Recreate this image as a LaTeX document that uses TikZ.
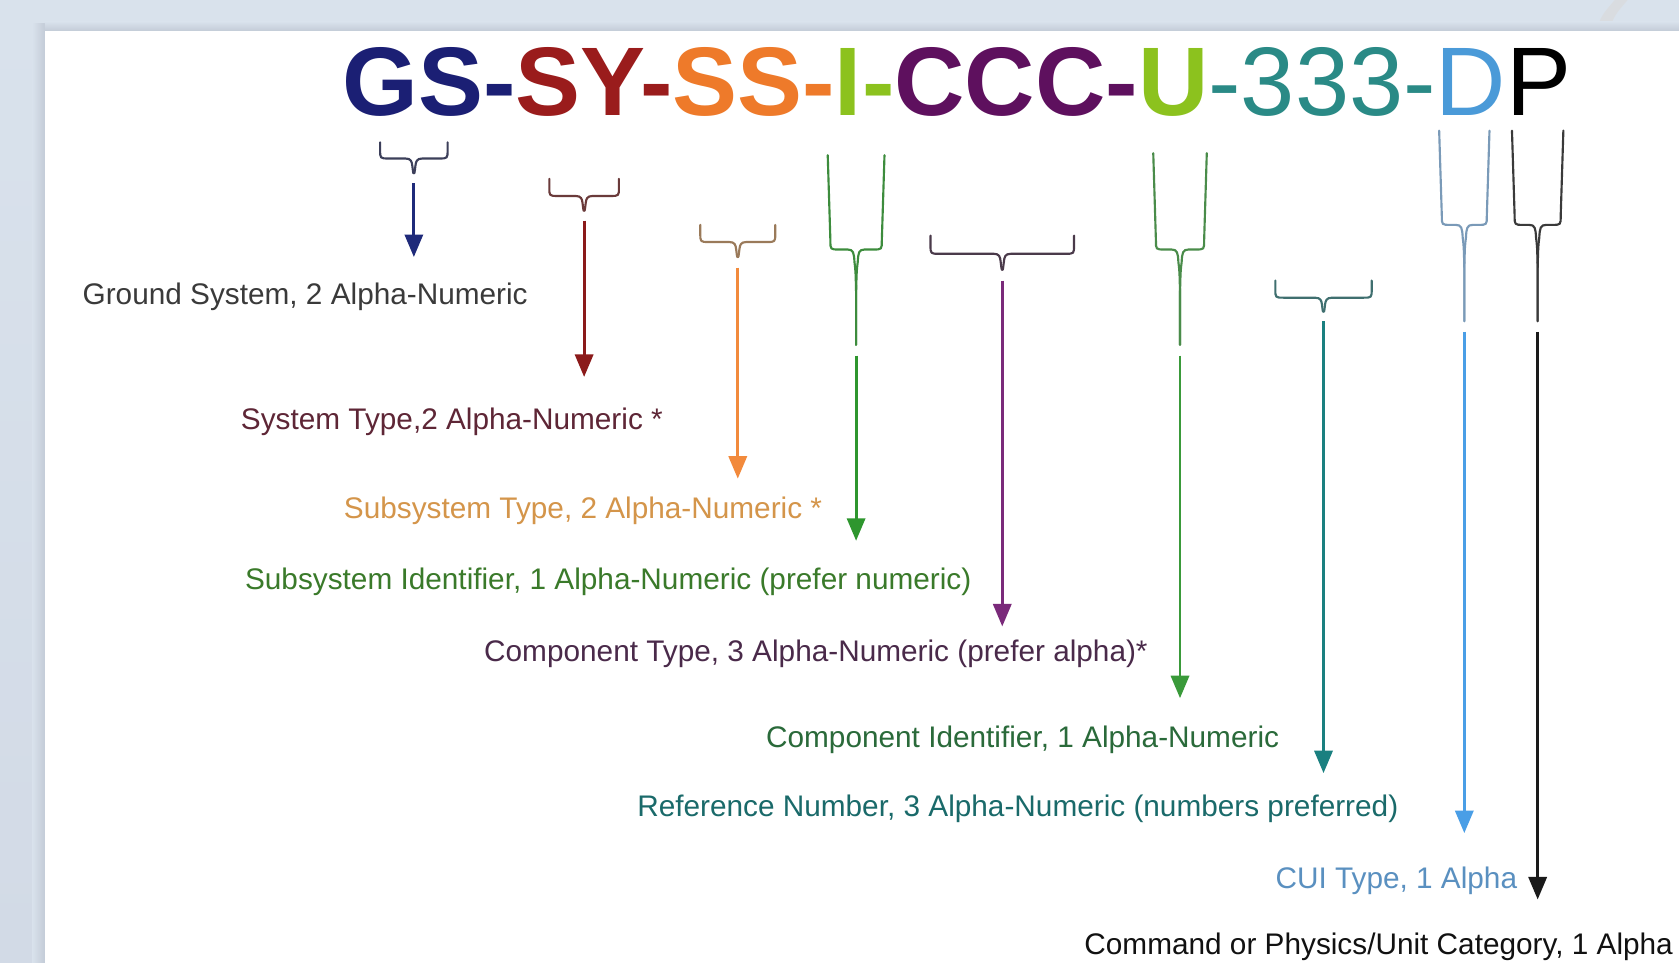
\documentclass[tikz,border=0pt]{standalone}
\usepackage{fontspec}
\setmainfont{Liberation Sans}
\usetikzlibrary{arrows.meta}
% background colours
\definecolor{bgtop}{HTML}{D9E2EC}
\definecolor{bgbot}{HTML}{D2DAE6}
\definecolor{bgshadow}{HTML}{C3CBD7}
% title colours
\definecolor{tgs}{HTML}{1B1F74}
\definecolor{tsy}{HTML}{9A1C1C}
\definecolor{tss}{HTML}{EE7A2A}
\definecolor{ti}{HTML}{8CC21E}
\definecolor{tccc}{HTML}{5E105E}
\definecolor{tthree}{HTML}{2A8A86}
\definecolor{td}{HTML}{4A9AD8}
% brace colours
\definecolor{bgs}{HTML}{3C3F5A}
\definecolor{bsy}{HTML}{6A3A3A}
\definecolor{bss}{HTML}{9A7A5A}
\definecolor{bi}{HTML}{3D8C3D}
\definecolor{bccc}{HTML}{4A3A4A}
\definecolor{bu}{HTML}{4A8C4A}
\definecolor{bthree}{HTML}{3F6F6F}
\definecolor{bd}{HTML}{7A9AB8}
\definecolor{bp}{HTML}{3A3A3A}
% arrow colours
\definecolor{ags}{HTML}{1F2A7A}
\definecolor{asy}{HTML}{8B1A1A}
\definecolor{ass}{HTML}{F28A3C}
\definecolor{ai}{HTML}{2E962E}
\definecolor{accc}{HTML}{7A2A7A}
\definecolor{au}{HTML}{3A9A3A}
\definecolor{athree}{HTML}{1A8080}
\definecolor{ad}{HTML}{4A9EE6}
\definecolor{ap}{HTML}{1A1A1A}
% label colours
\definecolor{lgs}{HTML}{3A3A3A}
\definecolor{lsy}{HTML}{5E2636}
\definecolor{lss}{HTML}{D4954A}
\definecolor{li}{HTML}{3A7A2A}
\definecolor{lccc}{HTML}{4A2A4A}
\definecolor{lu}{HTML}{2A6A3A}
\definecolor{lthree}{HTML}{1A6A6A}
\definecolor{ld}{HTML}{5A90C0}
\definecolor{lp}{HTML}{111111}
% #1 name, #2 left x, #3 right x, #4 top y, #5 bar y, #6 tip y, #7 colour
\newcommand{\dnbrace}[7]{%
  \pgfmathsetmacro{\bc}{(#2+#3)/2}%
  \pgfmathsetmacro{\bs}{min(#5+40,#6)}%
  \pgfmathsetmacro{\bm}{min(#5+12,(#5+#6)/2)}%
  \pgfmathsetmacro{\br}{min(8,(#5-#4)*0.6)}%
  \pgfmathsetmacro{\bt}{((#5-#4)>40)?2.5:0}%
  \draw[bracestyle,draw=#7] (#2,#4) -- (#2+\bt,#5-\br) .. controls (#2+\bt,#5) .. (#2+\bt+\br,#5) -- (\bc-8,#5) .. controls (\bc-2.5,#5) and (\bc-2,#5+3) .. (\bc-1.5,\bm) .. controls (\bc-0.5,\bm+8) .. (\bc,\bs) -- (\bc,#6);
  \draw[bracestyle,draw=#7] (#3,#4) -- (#3-\bt,#5-\br) .. controls (#3-\bt,#5) .. (#3-\bt-\br,#5) -- (\bc+8,#5) .. controls (\bc+2.5,#5) and (\bc+2,#5+3) .. (\bc+1.5,\bm) .. controls (\bc+0.5,\bm+8) .. (\bc,\bs) -- (\bc,#6);
  \coordinate (#1) at (\bc,#6+10);
}
\begin{document}
\begin{tikzpicture}[x=1pt,y=-1pt,
  bracestyle/.style={line width=2pt,line cap=round,line join=round},
  arrowline/.style={line width=2.6pt,-{Triangle[width=17pt,length=21pt]}},
  lbl/.style={anchor=mid,inner sep=0pt,font=\fontsize{27.8}{30}\selectfont}]
\useasboundingbox (0,0) rectangle (1568,899);
% background
\fill[top color=bgtop, bottom color=bgbot] (0,0) rectangle (1568,899);
\fill[gray!30,opacity=0.6] (1490,29) .. controls (1496,14) .. (1508,0) -- (1520,0) .. controls (1508,14) .. (1502,29) -- cycle;
\fill[left color=bgtop, right color=bgshadow] (30,22) rectangle (42,899);
\fill[top color=bgtop, bottom color=bgshadow] (42,20) rectangle (1568,29);
\fill[white] (42,29) rectangle (1568,899);
% title
\node[anchor=base,inner sep=0pt,font=\fontsize{91}{91}\selectfont] (title) at (893.5,108)
  {\bfseries\textcolor{tgs}{GS-}\textcolor{tsy}{SY-}\textcolor{tss}{SS-}\textcolor{ti}{I-}\textcolor{tccc}{CCC-}\textcolor{ti}{U}\mdseries\textcolor{tthree}{-333-}\textcolor{td}{D}\textcolor{black}{P}};
% braces
\dnbrace{gss}{355}{418}{133}{148}{161}{bgs}
\dnbrace{sys}{513}{578}{167}{183}{196}{bsy}
\dnbrace{sss}{654}{724}{210}{226}{240}{bss}
\dnbrace{is}{773}{826}{145}{233}{322}{bi}
\dnbrace{cccs}{869}{1003}{220}{237}{252}{bccc}
\dnbrace{us}{1077}{1127}{143}{233}{322}{bu}
\dnbrace{threes}{1191}{1281}{262}{278}{290}{bthree}
\dnbrace{ds}{1344}{1391}{122}{210}{300}{bd}
\dnbrace{ps}{1412}{1460}{122}{210}{300}{bp}
% arrow ends
\coordinate (gse) at (386.5,240);
\coordinate (sye) at (545.5,352);
\coordinate (sse) at (689,447);
\coordinate (ie) at (799.5,505);
\coordinate (ccce) at (936,585);
\coordinate (ue) at (1102,652);
\coordinate (threee) at (1236,722);
\coordinate (de) at (1367.5,778);
\coordinate (pe) at (1436,840);
\draw[arrowline,ags] (gss) -- (gse);
\draw[arrowline,asy] (sys) -- (sye);
\draw[arrowline,ass] (sss) -- (sse);
\draw[arrowline,ai] (is) -- (ie);
\draw[arrowline,accc] (cccs) -- (ccce);
\draw[arrowline,au] (us) -- (ue);
\draw[arrowline,athree] (threes) -- (threee);
\draw[arrowline,ad] (ds) -- (de);
\draw[arrowline,ap] (ps) -- (pe);
% labels
\node[lbl,text=lgs] (l1) at (285,282) {Ground System, 2 Alpha-Numeric};
\node[lbl,text=lsy] (l2) at (422,398) {System Type,2 Alpha-Numeric *};
\node[lbl,text=lss] (l3) at (544.5,482) {Subsystem Type, 2 Alpha-Numeric *};
\node[lbl,text=li] (l4) at (568,548) {Subsystem Identifier, 1 Alpha-Numeric (prefer numeric)};
\node[lbl,text=lccc] (l5) at (762,615) {Component Type, 3 Alpha-Numeric (prefer alpha)*};
\node[lbl,text=lu] (l6) at (955,695) {Component Identifier, 1 Alpha-Numeric};
\node[lbl,text=lthree] (l7) at (950.5,760) {Reference Number, 3 Alpha-Numeric (numbers preferred)};
\node[lbl,text=ld] (l8) at (1304,827) {CUI Type, 1 Alpha};
\node[lbl,text=lp] (l9) at (1287.5,889) {Command or Physics/Unit Category, 1 Alpha};
\end{tikzpicture}
\end{document}
